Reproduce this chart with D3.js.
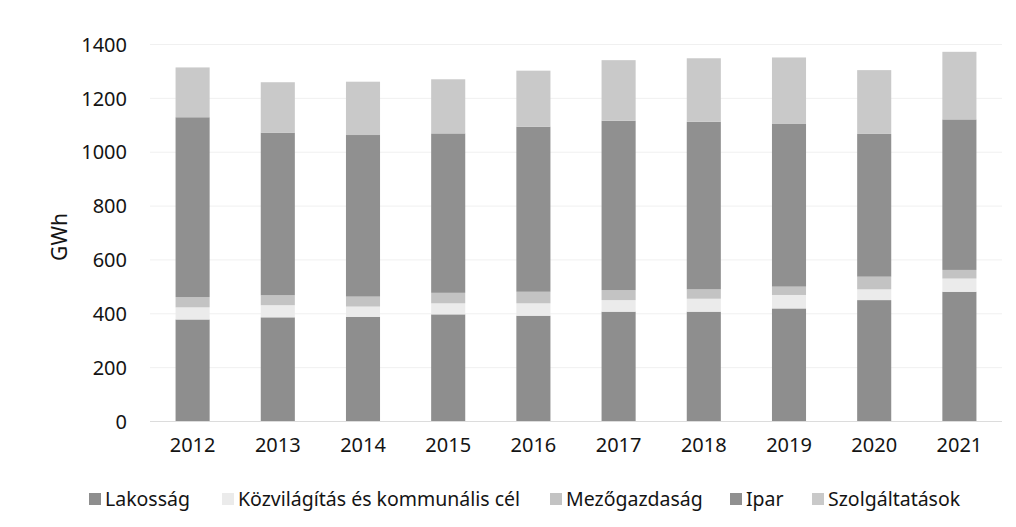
<!DOCTYPE html>
<html>
<head>
<meta charset="utf-8">
<script src="https://cdn.jsdelivr.net/npm/d3@7"></script>
<style>
  body { margin: 0; background: #fff; }
  text { font-family: "Noto Sans", "Open Sans", sans-serif; fill: #141414; }
</style>
</head>
<body>
<div id="chart"></div>
<script>
// values, GWh
var years = ["2012", "2013", "2014", "2015", "2016", "2017", "2018", "2019", "2020", "2021"];
var lakossag    = [377, 385, 387, 396, 391, 406, 406, 418, 449, 480];
var kozvilagitas = [45, 45, 38, 41, 46, 43, 48, 50, 40, 49];
var mezogazdasag = [38, 37, 37, 39, 43, 37, 35, 31, 47, 32];
var ipar        = [668, 604, 600, 592, 613, 629, 622, 604, 530, 559];
var szolgaltatas = [185, 187, 198, 201, 208, 225, 236, 247, 237, 251];
var yTicks = [0, 200, 400, 600, 800, 1000, 1200, 1400];

var seriesNames = ["Lakosság", "Közvilágítás és kommunális cél", "Mezőgazdaság", "Ipar", "Szolgáltatások"];
var seriesValues = [lakossag, kozvilagitas, mezogazdasag, ipar, szolgaltatas];
var colors = ["#8e8e8e", "#ebebeb", "#c3c3c3", "#909090", "#c9c9c9"];

var width = 1016, height = 527;
var margin = {top: 44, right: 14, bottom: 106, left: 150};

var rows = years.map(function(y, i) {
    var r = {year: y};
    seriesNames.forEach(function(n, k) { r[n] = seriesValues[k][i]; });
    return r;
});

var x = d3.scaleBand()
    .domain(years)
    .range([margin.left, width - margin.right])
    .paddingInner(0.6)
    .paddingOuter(0.3);

var y = d3.scaleLinear()
    .domain([0, 1400])
    .range([height - margin.bottom, margin.top]);

var svg = d3.select("#chart").append("svg")
    .attr("width", width)
    .attr("height", height);

// grid
svg.append("g")
    .selectAll("line")
    .data(yTicks)
    .enter().append("line")
    .attr("x1", margin.left)
    .attr("x2", width - margin.right)
    .attr("y1", function(d) { return y(d) + 0.5; })
    .attr("y2", function(d) { return y(d) + 0.5; })
    .attr("stroke", function(d) { return d == 0 ? "#dcdcdc" : "#f0f0f0"; })
    .attr("stroke-width", 1);

var stack = d3.stack().keys(seriesNames);
var layers = stack(rows);

svg.append("g")
    .selectAll("g")
    .data(layers)
    .enter().append("g")
    .attr("fill", function(d, i) { return colors[i]; })
    .selectAll("rect")
    .data(function(d) { return d; })
    .enter().append("rect")
    .attr("x", function(d) { return x(d.data.year); })
    .attr("width", x.bandwidth())
    .attr("y", function(d) { return y(d[1]); })
    .attr("height", function(d) { return y(d[0]) - y(d[1]); });

// y axis
var yAxis = svg.append("g")
    .attr("transform", "translate(" + (margin.left - 23) + ",0)")
    .call(d3.axisLeft(y).tickValues(yTicks).tickFormat(d3.format("d")).tickSize(0).tickPadding(0));
yAxis.select(".domain").remove();
yAxis.selectAll("text").style("font-size", "20px").attr("dy", "0.36em");

// x axis
var xAxis = svg.append("g")
    .attr("transform", "translate(0," + (height - margin.bottom) + ")")
    .call(d3.axisBottom(x).tickSize(0).tickPadding(17));
xAxis.select(".domain").remove();
xAxis.selectAll("text").style("font-size", "20px");

svg.append("text")
    .attr("transform", "translate(67,237) rotate(-90)")
    .attr("text-anchor", "middle")
    .style("font-size", "21px")
    .text("GWh");

// legend
var legendX = [89, 222, 550, 730, 812];
var legend = svg.append("g")
    .selectAll("g")
    .data(seriesNames)
    .enter().append("g")
    .attr("transform", function(d, i) { return "translate(" + legendX[i] + ",499)"; });
legend.append("rect")
    .attr("y", -6)
    .attr("width", 12)
    .attr("height", 12)
    .attr("fill", function(d, i) { return colors[i]; });
legend.append("text")
    .attr("x", 16)
    .attr("dy", "0.35em")
    .style("font-size", "19.5px")
    .text(function(d) { return d; });
</script>
</body>
</html>
